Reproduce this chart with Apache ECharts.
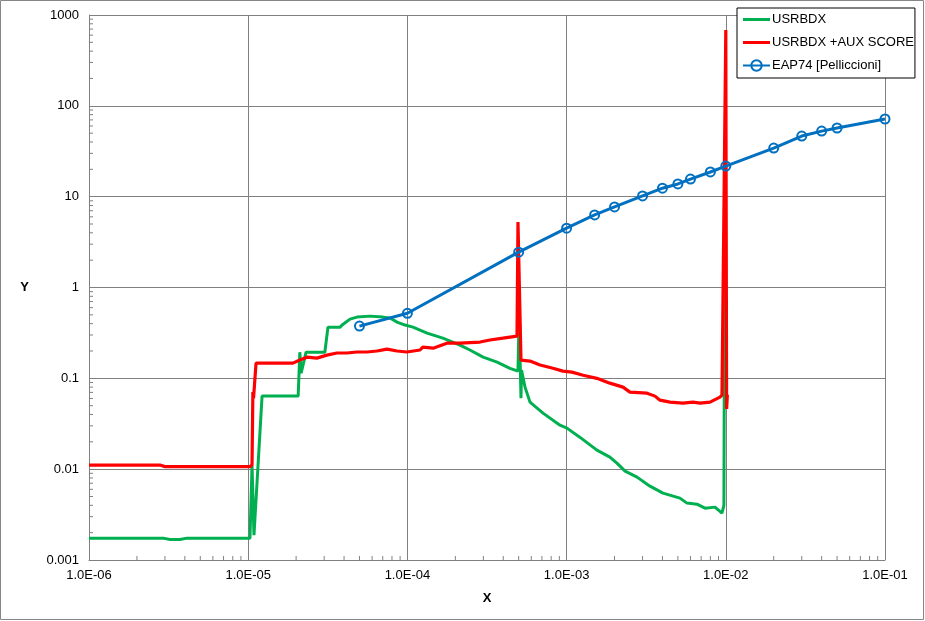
<!DOCTYPE html>
<html><head><meta charset="utf-8">
<script src="https://cdn.jsdelivr.net/npm/echarts/dist/echarts.min.js"></script>
<style>html,body{margin:0;padding:0;background:#fff}#c{width:925px;height:621px}</style>
</head><body><div id="c"></div>
<script>
// USRBDX (green)
const usrbdxX = [1e-6,2.92e-6,3.23e-6,3.73e-6,4.13e-6,1.026e-5,1.057e-5,1.087e-5,1.222e-5,2.06e-5,2.11e-5,2.15e-5,2.31e-5,3.03e-5,3.17e-5,3.78e-5,3.89e-5,4.36e-5,4.82e-5,5.82e-5,7.03e-5,7.78e-5,8.61e-5,9.66e-5,1.084e-4,1.2e-4,1.33e-4,1.67e-4,2.14e-4,2.47e-4,2.99e-4,3.66e-4,4.41e-4,4.95e-4,5.03e-4,5.17e-4,5.21e-4,5.48e-4,5.89e-4,7.11e-4,9.09e-4,1.005e-3,1.21e-3,1.55e-3,1.87e-3,2.07e-3,2.33e-3,2.77e-3,3.34e-3,4.03e-3,5.15e-3,5.70e-3,6.59e-3,7.40e-3,8.55e-3,9.46e-3,9.73e-3,9.88e-3,1.003e-2];
const usrbdxY = [0.00174,0.00174,0.00168,0.00168,0.00174,0.00174,0.011,0.00188,0.0637,0.0637,0.194,0.114,0.194,0.194,0.366,0.366,0.386,0.449,0.472,0.484,0.472,0.461,0.416,0.386,0.366,0.340,0.315,0.277,0.232,0.205,0.171,0.151,0.129,0.120,0.5,0.0605,0.123,0.080,0.0547,0.0414,0.0305,0.0283,0.0225,0.0162,0.01355,0.01164,0.0095,0.00817,0.0065,0.00544,0.0048,0.00423,0.00412,0.00372,0.00382,0.00328,0.0040,37,0.0575];
// USRBDX +AUX SCORE (red)
const auxX = [1e-6,2.79e-6,3.0e-6,1.026e-5,1.057e-5,1.07e-5,1.08e-5,1.12e-5,1.91e-5,2.11e-5,2.34e-5,2.70e-5,3.12e-5,3.61e-5,4.17e-5,4.82e-5,5.57e-5,6.44e-5,7.45e-5,8.61e-5,9.94e-5,1.2e-4,1.25e-4,1.45e-4,1.77e-4,2.14e-4,2.86e-4,3.30e-4,3.98e-4,4.88e-4,4.95e-4,5.17e-4,5.89e-4,6.81e-4,8.21e-4,9.48e-4,1.08e-3,1.27e-3,1.55e-3,1.87e-3,2.26e-3,2.50e-3,3.20e-3,3.59e-3,3.86e-3,4.46e-3,5.38e-3,6.22e-3,6.89e-3,7.96e-3,9.19e-3,9.46e-3,1.0e-2,1.012e-2,1.023e-2];
const auxY = [0.0111,0.0111,0.01067,0.01067,0.0111,0.0705,0.060,0.147,0.147,0.159,0.171,0.167,0.180,0.190,0.190,0.195,0.195,0.200,0.210,0.200,0.195,0.205,0.221,0.215,0.244,0.244,0.251,0.264,0.277,0.292,5.25,0.159,0.155,0.140,0.129,0.120,0.117,0.108,0.100,0.0885,0.080,0.0705,0.0687,0.0637,0.0575,0.0547,0.0533,0.0547,0.0533,0.0547,0.0621,0.0653,684,0.046,0.066];
// EAP74 [Pelliccioni] (blue)
const eapX = [5e-5,1e-4,5e-4,1e-3,1.5e-3,2e-3,3e-3,4e-3,5e-3,6e-3,8e-3,1e-2,2e-2,3e-2,4e-2,5e-2,1e-1];
const eapY = [0.376,0.52,2.45,4.5,6.3,7.7,10.2,12.4,13.8,15.6,18.7,21.7,34.3,46.5,52.7,57,71.6];

const seriesNames = ['USRBDX','USRBDX +AUX SCORE','EAP74 [Pelliccioni]'];
const xMin = 1e-6, xMax = 1e-1, yMin = 1e-3, yMax = 1e3;

function zip(a,b){return a.map((v,i)=>[v,b[i]]);}
function minorTicks(lo, hi){
  const out=[];
  for(let e=Math.round(Math.log10(lo)); e<Math.round(Math.log10(hi)); e++){
    for(let d=2; d<=9; d++) out.push(d*Math.pow(10,e));
  }
  return out;
}
const FONT = '"Liberation Sans", Arial, sans-serif';
const GRID_C = '#808080';
const LINE_ICON = 'path://M0,0L27,0L27,3L0,3Z';

const chart = echarts.init(document.getElementById('c'), null, {renderer:'canvas'});
chart.setOption({
  backgroundColor:'#fff',
  animation:false,
  grid:{left:89, top:15, right:40, bottom:61, containLabel:false},
  graphic:[{type:'rect', shape:{x:0.5,y:0.5,width:923,height:619}, style:{fill:'none', stroke:'#868686', lineWidth:1}, z:-1}],
  legend:{
    orient:'vertical', left:737, top:8,
    data:[{name:seriesNames[0], icon:LINE_ICON},{name:seriesNames[1], icon:LINE_ICON},{name:seriesNames[2]}],
    backgroundColor:'#fff', borderColor:'#000', borderWidth:1,
    padding:[5,1,6,5], itemGap:10, itemWidth:27, itemHeight:13,
    textStyle:{fontFamily:FONT, fontSize:13, color:'#000', padding:[0,0,0,-3]}
  },
  xAxis:{
    type:'log', logBase:10, min:xMin, max:xMax,
    name:'X', nameLocation:'middle', nameGap:32,
    nameTextStyle:{fontFamily:FONT, fontSize:13, fontWeight:'bold', color:'#000'},
    axisLine:{show:true, lineStyle:{color:GRID_C, width:1}},
    axisTick:{show:false},
    axisLabel:{fontFamily:FONT, fontSize:13, color:'#000', margin:9,
      formatter:function(v){const s=Number(v).toExponential(1).split('e');const n=parseInt(s[1],10);return s[0]+'E'+(n<0?'-':'+')+String(Math.abs(n)).padStart(2,'0');}},
    splitLine:{show:true, lineStyle:{color:GRID_C, width:1}}
  },
  yAxis:{
    type:'log', logBase:10, min:yMin, max:yMax,
    name:'Y', nameLocation:'middle', nameGap:60, nameRotate:0,
    nameTextStyle:{fontFamily:FONT, fontSize:13, fontWeight:'bold', color:'#000'},
    axisLine:{show:true, lineStyle:{color:GRID_C, width:1}},
    axisTick:{show:false},
    axisLabel:{fontFamily:FONT, fontSize:13, color:'#000', margin:10,
      formatter:function(v){return String(+Number(v).toPrecision(3));}},
    splitLine:{show:true, lineStyle:{color:GRID_C, width:1}}
  },
  series:[
    {type:'custom', name:'xminor', silent:true, clip:false, z:1,
      data:minorTicks(xMin,xMax).map(v=>[v,yMin]),
      renderItem:function(p,api){const c=api.coord([api.value(0),api.value(1)]);
        return {type:'line', shape:{x1:c[0],y1:c[1],x2:c[0],y2:c[1]-4}, style:{stroke:GRID_C, lineWidth:1}};}},
    {type:'custom', name:'yminor', silent:true, clip:false, z:1,
      data:minorTicks(yMin,yMax).map(v=>[xMin,v]),
      renderItem:function(p,api){const c=api.coord([api.value(0),api.value(1)]);
        return {type:'line', shape:{x1:c[0],y1:c[1],x2:c[0]+4,y2:c[1]}, style:{stroke:GRID_C, lineWidth:1}};}},
    {type:'line', name:seriesNames[0], data:zip(usrbdxX,usrbdxY), showSymbol:false, symbol:'none',
      lineStyle:{color:'#00B050', width:3}, itemStyle:{color:'#00B050'}, z:3},
    {type:'line', name:seriesNames[1], data:zip(auxX,auxY), showSymbol:false, symbol:'none',
      lineStyle:{color:'#FF0000', width:3.2}, itemStyle:{color:'#FF0000'}, z:4},
    {type:'line', name:seriesNames[2], data:zip(eapX,eapY), symbol:'circle', symbolSize:9, showSymbol:true,
      lineStyle:{color:'#0070C0', width:3}, itemStyle:{color:'rgba(255,255,255,0)', borderColor:'#0070C0', borderWidth:2}, z:5}
  ]
});
</script></body></html>
